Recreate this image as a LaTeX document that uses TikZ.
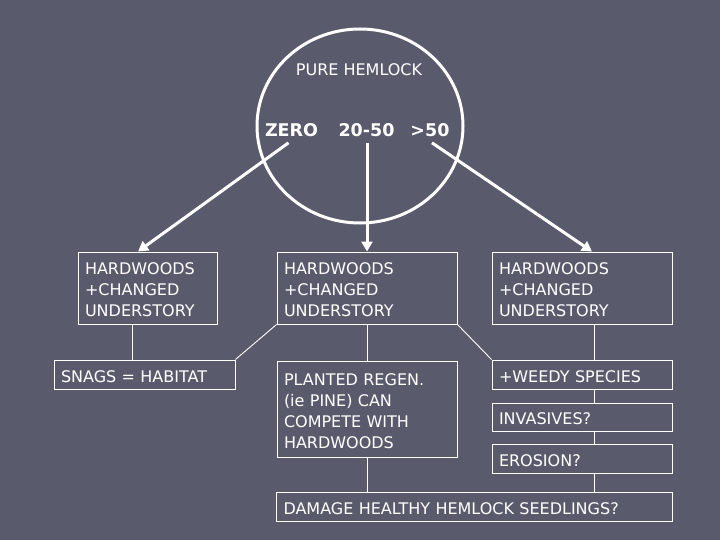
\documentclass[tikz,border=0pt]{standalone}
\usepackage{fontspec}
\setmainfont{DejaVu Sans}
\usetikzlibrary{arrows.meta,shapes.geometric}
\definecolor{bg}{RGB}{89,91,109}
\tikzset{
  boxframe/.style={draw=white, line width=1pt, inner sep=0pt, anchor=center},
  boxtext/.style={text=white, font=\fontsize{16}{21}\selectfont,
    align=left, inner xsep=7pt, inner ysep=0pt, anchor=center, yshift=-1.8pt},
  thin/.style={draw=white, line width=0.9pt},
  bigarrow/.style={draw=white, line width=3pt, -{Triangle[length=10pt,width=11pt]}},
  lbl/.style={text=white, inner sep=0pt},
}
\newcommand{\mybox}[6]{% name, x, y, w, h, text
  \node[boxframe, minimum width=#4pt, minimum height=#5pt] (#1) at (#2,#3) {};
  \node[boxtext, text width=\dimexpr #4pt-14pt\relax] (#1-t) at (#1.center) {#6};}
\begin{document}
\begin{tikzpicture}[x=1pt,y=-1pt]
\fill[bg] (0,0) rectangle (720,540);
\useasboundingbox (0,0) rectangle (720,540);

\node[draw=white, line width=3pt, ellipse, minimum width=206pt, minimum height=194pt] (circ) at (360,126) {};
\node[lbl, font=\fontsize{16}{20}\selectfont] (pure) at (359,70) {PURE HEMLOCK};
\node[lbl, font=\bfseries\fontsize{17.5}{20}\selectfont] (zero) at (291.5,130) {ZERO};
\node[lbl, font=\bfseries\fontsize{17.5}{20}\selectfont] (mid) at (366.5,130) {20-50};
\node[lbl, font=\bfseries\fontsize{17.5}{20}\selectfont] (gt) at (430,130) {>50};

\mybox{b1}{147.5}{288}{139}{72}{HARDWOODS\\+CHANGED\\UNDERSTORY}
\mybox{b2}{367}{288}{180}{72}{HARDWOODS\\+CHANGED\\UNDERSTORY}
\mybox{b3}{582}{288}{180}{72}{HARDWOODS\\+CHANGED\\UNDERSTORY}
\mybox{snags}{144.5}{374.5}{181}{29}{SNAGS = HABITAT}
\mybox{planted}{367}{409}{180}{96}{PLANTED REGEN.\\(ie PINE) CAN\\COMPETE WITH\\HARDWOODS}
\mybox{weedy}{582}{374.5}{180}{29}{+WEEDY SPECIES}
\mybox{inv}{582}{417}{180}{28}{INVASIVES?}
\mybox{ero}{582}{458.5}{180}{29}{EROSION?}
\mybox{damage}{474.5}{506.5}{396}{29}{DAMAGE HEALTHY HEMLOCK SEEDLINGS?}

% big arrows
\draw[bigarrow] ([xshift=-3pt,yshift=-6pt]zero.south) -- ([xshift=-9.5pt]b1.north);
\draw[bigarrow] ([yshift=-6pt]mid.south -| b2.north) -- (b2.north);
\draw[bigarrow] ([xshift=2pt,yshift=-6pt]gt.south) -- ([xshift=10pt]b3.north);

% thin connectors
\draw[thin] ([xshift=-15.5pt]b1.south) -- ([xshift=-15.5pt]b1.south |- snags.north);
\draw[thin] (b2.south west) -- (snags.north east);
\draw[thin] (b2.south east) -- (weedy.north west);
\draw[thin] (b2.south) -- (planted.north);
\draw[thin] (planted.south) -- (planted.south |- damage.north);
\draw[thin] ([xshift=12pt]b3.south) -- ([xshift=12pt]weedy.north);
\draw[thin] ([xshift=12pt]weedy.south) -- ([xshift=12pt]inv.north);
\draw[thin] ([xshift=12pt]inv.south) -- ([xshift=12pt]ero.north);
\draw[thin] ([xshift=12pt]ero.south) -- ([xshift=12pt]ero.south |- damage.north);
\end{tikzpicture}
\end{document}
